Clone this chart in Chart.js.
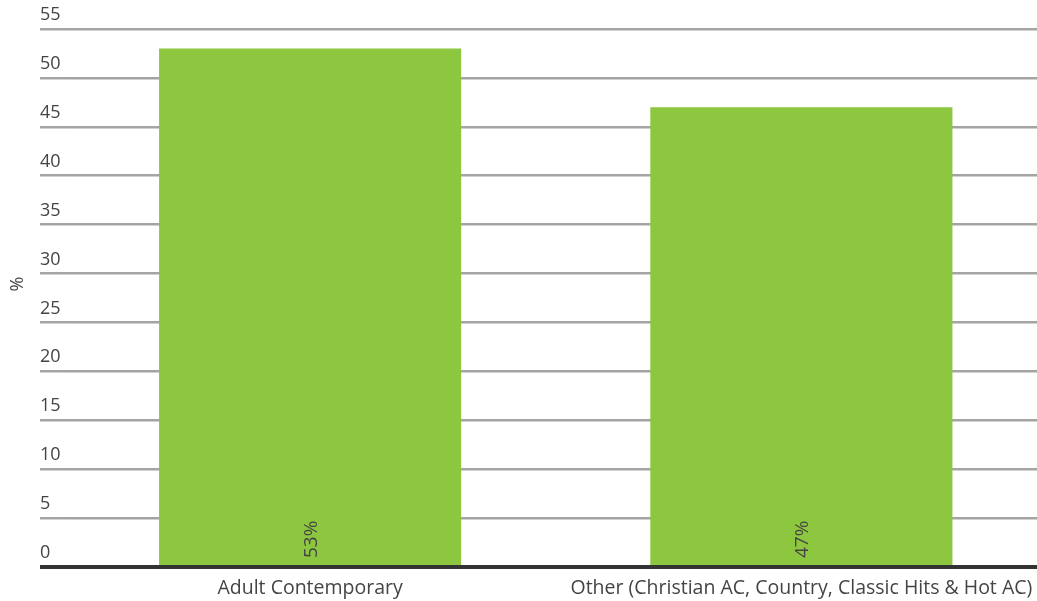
<!DOCTYPE html>
<html>
<head>
<meta charset="utf-8">
<script src="https://cdn.jsdelivr.net/npm/chart.js@4/dist/chart.umd.min.js"></script>
<style>
    html, body { margin: 0; padding: 0; overflow: hidden; background: #fff; }
</style>
</head>
<body>
<canvas id="shareChart" width="1047" height="601"></canvas>
<script>
const categories = ["Adult Contemporary", "Other (Christian AC, Country, Classic Hits & Hot AC)"];
const shares = [53, 47];
const shareLabels = ["53%", "47%"];
const yTicks = [0, 5, 10, 15, 20, 25, 30, 35, 40, 45, 50, 55];

const textColor = "#444";
const fontFamily = "'Open Sans', sans-serif";

// writes the percent labels up the bar, near its base
const barLabels = {
    id: "barLabels",
    afterDatasetsDraw(chart) {
        const ctx = chart.ctx;
        const meta = chart.getDatasetMeta(0);
        ctx.save();
        ctx.fillStyle = textColor;
        ctx.font = "19px " + fontFamily;
        ctx.textBaseline = "middle";
        ctx.textAlign = "left";
        meta.data.forEach((bar, i) => {
            ctx.save();
            ctx.translate(bar.x + 1, bar.base - 7);
            ctx.rotate(-Math.PI / 2);
            ctx.fillText(shareLabels[i], 0, 0);
            ctx.restore();
        });
        ctx.restore();
    }
};

const ctx = document.getElementById("shareChart").getContext("2d");

new Chart(ctx, {
    type: "bar",
    data: {
        labels: categories,
        datasets: [{
            data: shares,
            backgroundColor: "#8dc63f",
            borderWidth: 0,
            barPercentage: 0.615,
            categoryPercentage: 1
        }]
    },
    options: {
        responsive: false,
        animation: false,
        devicePixelRatio: 1,
        layout: { padding: { left: 40, top: 29, right: 0, bottom: 0 } },
        plugins: {
            legend: { display: false },
            tooltip: { enabled: false }
        },
        scales: {
            x: {
                grid: { display: false, drawTicks: false },
                border: { display: false },
                ticks: {
                    color: textColor,
                    padding: 10,
                    maxRotation: 0,
                    font: { family: fontFamily, size: 19.5 }
                },
                afterFit(scale) { scale.height = 34; }
            },
            y: {
                min: 0,
                max: 55,
                afterBuildTicks(scale) {
                    scale.ticks = yTicks.map(v => ({ value: v }));
                },
                afterFit(scale) { scale.width = 24.5; },
                border: { display: false },
                grid: {
                    drawTicks: true,
                    tickLength: 24.5,
                    color: c => c.tick && c.tick.value === 0 ? "#333" : "#a4a4a4",
                    lineWidth: c => c.tick && c.tick.value === 0 ? 4 : 2.5
                },
                ticks: {
                    color: textColor,
                    crossAlign: "far",
                    labelOffset: -14,
                    padding: 0,
                    font: { family: fontFamily, size: 18 }
                },
                title: {
                    display: true,
                    // leading spaces nudge the sign up a little
                    text: "      %",
                    color: textColor,
                    padding: { top: -33, bottom: 0 },
                    font: { family: fontFamily, size: 18 }
                }
            }
        }
    },
    plugins: [barLabels]
});
</script>
</body>
</html>
